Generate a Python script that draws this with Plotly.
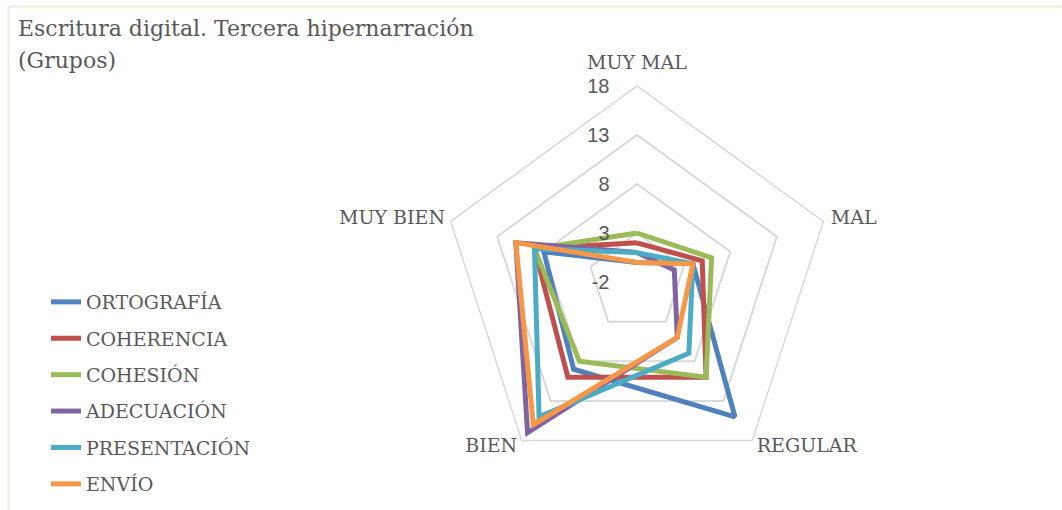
import plotly.graph_objects as go

categories = ["MUY MAL", "MAL", "REGULAR", "BIEN", "MUY BIEN"]
series_names = ["ORTOGRAFÍA", "COHERENCIA", "COHESIÓN", "ADECUACIÓN", "PRESENTACIÓN", "ENVÍO"]
ortografia = [0, 4, 15, 9, 8]
coherencia = [2, 5, 10, 10, 9]
cohesion = [3, 6, 10, 8, 9]
adecuacion = [1, 2, 5, 17, 11]
presentacion = [1, 4, 7, 15, 9]
envio = [0, 4, 5, 16, 11]
radial_ticks = [-2, 3, 8, 13, 18]
radial_tick_labels = ["-2", "3", "8", "13", "18"]
title_lines = ["Escritura digital. Tercera hipernarración", "(Grupos)"]

# category label anchors just outside the outer ring, and placement
label_r = [19.2, 18.8, 18.8, 18.8, 18.6]
label_pos = ["top center", "middle right", "middle right", "middle left", "middle left"]

colors = ["#4F81BD", "#C0504D", "#9BBB59", "#8064A2", "#4BACC6", "#F79646"]
all_values = [ortografia, coherencia, cohesion, adecuacion, presentacion, envio]

W, H = 1062, 510
cx, cy, R = 637, 282, 196
r_min, r_max, r_label_max = -2, 18, 20
R2 = R * (r_label_max - r_min) / (r_max - r_min)

fig = go.Figure()
for i, (name, vals) in enumerate(zip(series_names, all_values)):
    fig.add_trace(go.Scatterpolar(
        r=vals + vals[:1],
        theta=categories + categories[:1],
        mode="lines",
        name=name,
        legendgroup=name,
        line=dict(color=colors[i], width=5),
        hoverinfo="skip",
    ))

serif = "'DejaVu Serif', 'Liberation Serif', serif"
sans = "'Liberation Sans', Arial, sans-serif"

fig.add_trace(go.Scatterpolar(
    r=label_r, theta=categories, mode="text", text=categories,
    textposition=label_pos, cliponaxis=False, showlegend=False,
    textfont=dict(family=serif, size=19, color="#595959"),
    hoverinfo="skip", subplot="polar2",
))

def dom(rad):
    return dict(x=[(cx - rad) / W, (cx + rad) / W],
                y=[(H - cy - rad) / H, (H - cy + rad) / H])

fig.update_layout(
    width=W, height=H,
    margin=dict(l=0, r=0, t=0, b=0),
    paper_bgcolor="white",
    plot_bgcolor="white",
    font=dict(family=serif, color="#595959", size=19),
    polar=dict(
        domain=dom(R),
        bgcolor="white",
        gridshape="linear",
        radialaxis=dict(
            range=[r_min, r_max], tickvals=radial_ticks, ticktext=radial_tick_labels,
            showline=False,
            gridcolor="#D9D9D9", gridwidth=1.5, angle=90, tickangle=90,
            ticks="outside", ticklen=20, tickcolor="rgba(0,0,0,0)",
            side="counterclockwise",
            tickfont=dict(family=sans, size=20, color="#595959"),
        ),
        angularaxis=dict(
            rotation=90, direction="clockwise", showgrid=False,
            showline=True, linecolor="#D9D9D9", linewidth=1.5,
            showticklabels=False, ticks="",
        ),
    ),
    polar2=dict(
        domain=dom(R2),
        bgcolor="rgba(0,0,0,0)",
        gridshape="linear",
        radialaxis=dict(range=[r_min, r_label_max], visible=False, showgrid=False),
        angularaxis=dict(rotation=90, direction="clockwise", visible=False,
                         showgrid=False, showline=False),
    ),
    legend=dict(
        x=46 / W, y=(H - 283) / H, xanchor="left", yanchor="top",
        font=dict(family=serif, size=19, color="#595959"),
        tracegroupgap=8.7, bgcolor="rgba(0,0,0,0)",
    ),
    showlegend=True,
)

for k, line_text in enumerate(title_lines):
    fig.add_annotation(
        text=line_text, xref="paper", yref="paper",
        x=16 / W, y=(H - (28 + 32 * k)) / H, xanchor="left", yanchor="middle",
        align="left", showarrow=False,
        font=dict(family=serif, size=22, color="#595959"),
    )

fig.add_shape(type="line", xref="paper", yref="paper",
              x0=8.5 / W, x1=1, y0=(H - 6.5) / H, y1=(H - 6.5) / H,
              line=dict(color="#EEEBE0", width=2))
fig.add_shape(type="line", xref="paper", yref="paper",
              x0=8.5 / W, x1=8.5 / W, y0=0, y1=(H - 6.5) / H,
              line=dict(color="#EEEBE0", width=2))

fig.write_html(
    "out.html",
    config={"displayModeBar": False},
    post_script="document.body.style.margin='0';document.body.style.overflow='hidden';",
)
